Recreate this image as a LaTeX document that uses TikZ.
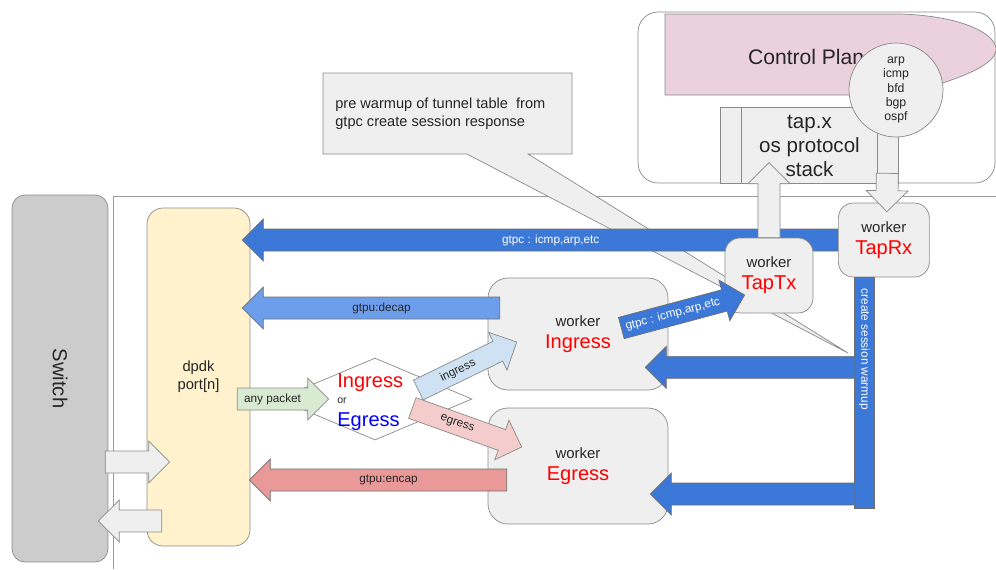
\documentclass[tikz,border=0pt]{standalone}
\usepackage{fontspec}
\setmainfont{Liberation Sans}
\usetikzlibrary{calc, shapes.geometric}
\definecolor{ln}{HTML}{8A8A8A}
\definecolor{frm}{HTML}{9A9A9A}
\definecolor{boxg}{HTML}{EFEFEF}
\definecolor{swg}{HTML}{CCCCCC}
\definecolor{portY}{HTML}{FFF2CC}
\definecolor{cpink}{HTML}{EAD1DC}
\definecolor{dblue}{HTML}{3C78D8}
\definecolor{mblue}{HTML}{6D9EEB}
\definecolor{lblue}{HTML}{CFE2F3}
\definecolor{lred}{HTML}{F4CCCC}
\definecolor{mred}{HTML}{EA9999}
\definecolor{lgreen}{HTML}{D9EAD3}
\definecolor{tred}{HTML}{FF0000}
\definecolor{tblue}{HTML}{0000FF}

% block arrow sizes
\newcommand{\shaftw}{0.22cm}
\newcommand{\headw}{0.42cm}
\newcommand{\headl}{0.42cm}
% [style]{from}{to}{label}
\newcommand{\barrow}[4][]{%
  \coordinate (hb) at ($(#3)!\headl!(#2)$);
  \draw[#1] ($(#2)!\shaftw!90:(#3)$) -- ($(hb)!\shaftw!90:(#3)$) -- ($(hb)!\headw!90:(#3)$) -- (#3)
    -- ($(hb)!\headw!-90:(#3)$) -- ($(hb)!\shaftw!-90:(#3)$) -- ($(#2)!\shaftw!-90:(#3)$) -- cycle;
  \path (#2) -- (hb) node[midway, sloped, alab, #1, draw=none, fill=none] {#4};}
\newcommand{\wlab}[1]{worker\\{\fontsize{11.4}{12.5}\selectfont\color{tred}#1}}

\begin{document}
\begin{tikzpicture}[x=0.02cm, y=-0.02cm,
    box/.style={rectangle, rounded corners=0.3cm, draw=ln, fill=boxg, align=center,
                text=black!85, font=\fontsize{8.5}{12.5}\selectfont},
    alab/.style={inner sep=0pt, text=black!85, font=\fontsize{6.7}{8}\selectfont},
    dbl/.style={fill=dblue, draw=ln!80!black, text=white},
    mbl/.style={fill=mblue, draw=ln!80!black},
    lbl/.style={fill=lblue, draw=ln},
    lrd/.style={fill=lred, draw=ln},
    mrd/.style={fill=mred, draw=ln!80!black},
    lgr/.style={fill=lgreen, draw=ln},
    gry/.style={fill=boxg, draw=ln},
    bar/.style={rectangle, fill=dblue, draw=ln!80!black, inner sep=0pt,
                minimum width=0.4cm, minimum height=4.62cm},
    sel/.style={diamond, draw=ln, fill=white, inner sep=0pt,
                minimum width=3.88cm, minimum height=1.64cm}]
  \useasboundingbox (0,0) rectangle (996,569);
  % frame
  \draw[frm] (113,569) -- (113,196) -- (996,196);

  % control plane
  \node[box, fill=white, rounded corners=0.4cm, minimum width=7.14cm, minimum height=3.42cm] (ctrl) at (816.5,97.5) {};
  \draw[ln, fill=cpink] (665,14) -- (900,14) .. controls (965,16) and (997,35) .. (996,50)
    .. controls (995,65) and (960,80) .. (900,95) -- (665,95) -- cycle;
  \node[font=\fontsize{12}{14}\selectfont, text=black!85] (cpT) at (812,57) {Control Plane};
  \node[box, rounded corners=0pt, minimum width=3.56cm, minimum height=1.52cm] (tapx) at (809,145) {};
  \draw[ln] ($(tapx.north west)+(22,0)$) -- ($(tapx.south west)+(22,0)$)
            ($(tapx.north east)+(-21,0)$) -- ($(tapx.south east)+(-21,0)$);
  \node[align=center, text=black!85, font=\fontsize{11.7}{13.6}\selectfont] (tapxT) at (809.5,146) {tap.x\\os protocol\\stack};
  \node[circle, draw=ln, fill=boxg, minimum size=1.88cm, inner sep=0pt, align=center,
        text=black!85, font=\fontsize{7}{8}\selectfont] (proto) at (896,90) {arp\\icmp\\bfd\\bgp\\ospf};

  % callout
  \draw[ln, fill=boxg] (323,73) -- (572,73) -- (572,154) -- (528,154) -- (848,353) -- (467,154) -- (323,154) -- cycle;
  \node[anchor=west, align=left, inner sep=0pt, text=black!85, font=\fontsize{8.3}{10.3}\selectfont] (note) at (335,114)
    {pre warmup of tunnel table~ from\\gtpc create session response};

  % switch and port
  \node[box, fill=swg, rounded corners=0.26cm, minimum width=1.92cm, minimum height=7.34cm,
        font=\fontsize{11.5}{13}\selectfont] (switch) at (60,378.5) {\rotatebox{-90}{Switch}};
  \node[box, fill=portY, rounded corners=0.32cm, minimum width=2.06cm, minimum height=6.76cm,
        font=\fontsize{8.4}{10.3}\selectfont] (dpdk) at (198.5,377) {dpdk\\port[n]};

  % tap workers
  \coordinate (rxIn) at (838,240);
  \barrow[dbl]{rxIn}{$(dpdk.east |- rxIn)+(-8,0)$}{gtpc : icmp,arp,etc}
  \node[box, anchor=west, minimum width=1.82cm, minimum height=1.48cm] (tapRx) at (rxIn) {\wlab{TapRx}};
  \node[box, minimum width=1.76cm, minimum height=1.5cm] (tapTx) at (769,275.5) {\wlab{TapTx}};
  \barrow[gry]{tapTx.north}{$(tapTx.north)+(0,-75)$}{}
  \barrow[gry]{$(tapx.south east)+(-11,-10)$}{$(tapRx.north)+(3,9)$}{}

  % data path workers
  \foreach \nm/\y/\h/\lab in {wIng/334/2.24/Ingress, wEgr/466/2.32/Egress}
    \node[box, rounded corners=0.4cm, minimum width=3.6cm, minimum height=\h cm] (\nm) at (578,\y) {\wlab{\lab}};
  \coordinate (decS) at ($(wIng.west)+(12,-26)$);
  \coordinate (encS) at ($(wEgr.west)+(19,14)$);
  \barrow[mbl]{decS}{$(dpdk.east |- decS)+(-8,0)$}{gtpu:decap}
  \barrow[mrd]{encS}{$(dpdk.east |- encS)+(-1,0)$}{gtpu:encap}

  % session warmup
  \node[bar, anchor=north] (warm) at ($(tapRx.south)+(-19.5,0)$) {};
  \node[rotate=-90, anchor=west, inner sep=0pt, text=white, font=\fontsize{6.7}{8}\selectfont] (warmT)
    at ($(warm.north)+(0,11)$) {create session warmup};
  \coordinate (wuS) at ($(warm.north west)+(1,90)$);
  \coordinate (wlS) at ($(warm.south west)+(1,-15)$);
  \barrow[dbl]{wuS}{$(wIng.east |- wuS)+(-23,0)$}{}
  \barrow[dbl]{wlS}{$(wEgr.east |- wlS)+(-18,0)$}{}

  % selector
  \node[sel] (sel) at (375,399) {};
  \node[anchor=base west, inner sep=0pt, text=tred, font=\fontsize{11.4}{13}\selectfont] (selI) at ($(sel)+(-38,-12)$) {Ingress};
  \node[anchor=base west, inner sep=0pt, text=black!85, font=\fontsize{6}{7}\selectfont] (selO) at ($(sel)+(-38,4)$) {or};
  \node[anchor=base west, inner sep=0pt, text=tblue, font=\fontsize{11.4}{13}\selectfont] (selE) at ($(sel)+(-38,27)$) {Egress};
  \barrow[lgr]{$(dpdk.east |- sel)+(-13,0)$}{$(sel.west)+(51,0)$}{any packet}
  \barrow[lbl]{$(sel.east)+(-54,-9)$}{$(wIng.west)+(29,8)$}{ingress}
  \barrow[lrd]{$(sel.east)+(-60,9)$}{$(wEgr.west)+(34,-19)$}{egress}
  \barrow[dbl]{$(wIng.east)+(-47,-6)$}{$(tapTx.west)+(20,19.5)$}{gtpc : icmp,arp,etc}

  % switch <-> port
  \coordinate (swOut) at ($(switch.east)+(-3,83.5)$);
  \coordinate (swIn) at ($(dpdk.west)+(15,144)$);
  \barrow[gry]{swOut}{$(dpdk.west |- swOut)+(23,0)$}{}
  \barrow[gry]{swIn}{$(switch.east |- swIn)+(-10,0)$}{}
\end{tikzpicture}
\end{document}
